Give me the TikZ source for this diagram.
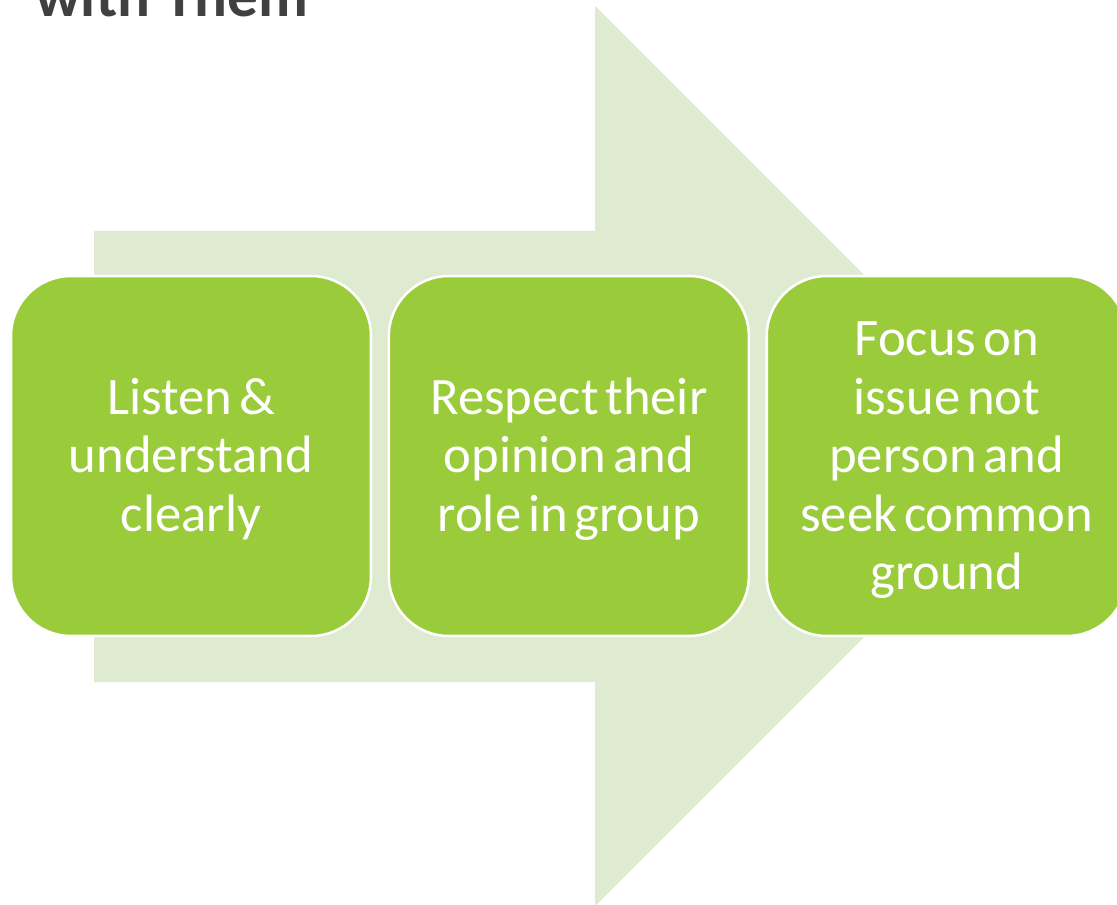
\documentclass[tikz,border=0pt]{standalone}
\usepackage{fontspec}
\setmainfont{Carlito}
\usetikzlibrary{positioning}
\definecolor{leaf}{RGB}{154,203,58}
\definecolor{pale}{RGB}{222,235,208}
\definecolor{ink}{RGB}{64,64,64}

\begin{document}
\begin{tikzpicture}[x=0.75pt,y=-0.75pt,
  step box/.style={rectangle,rounded corners=45pt,fill=leaf,draw=white,line width=1.9pt,
    minimum width=270pt,minimum height=270pt,text width=250pt,align=center,text=white,
    font=\fontsize{39.5}{44}\selectfont,
    execute at begin node={\spaceskip=0.13em\relax\rule{0pt}{36pt}},
    execute at end node={\rule[-11pt]{0pt}{11pt}}},
  node distance=11.5pt]
\useasboundingbox (0,0) rectangle (1117,905);

\coordinate (tail top) at (94,231);
\coordinate (neck top) at (595,231);
\coordinate (barb top) at (595,6);
\coordinate (tip) at (1045,456);
\coordinate (barb bottom) at (595,906);
\coordinate (neck bottom) at (595,682);
\coordinate (tail bottom) at (94,682);

\fill[pale] (tail top)--(neck top)--(barb top)--(tip)--(barb bottom)--(neck bottom)--(tail bottom)--cycle;

\node[anchor=base west,inner sep=0pt,text=ink,font=\fontsize{46}{50}\selectfont\bfseries] (title) at (35,17) {with Them};

\node[step box] (listen) at (191,456) {Listen \&\\understand\\clearly};
\node[step box,right=of listen] (respect) {Respect their\\opinion and\\role in group};
\node[step box,right=of respect] (focus) {Focus on\\issue not\\person and\\seek common\\ground};

\end{tikzpicture}
\end{document}
